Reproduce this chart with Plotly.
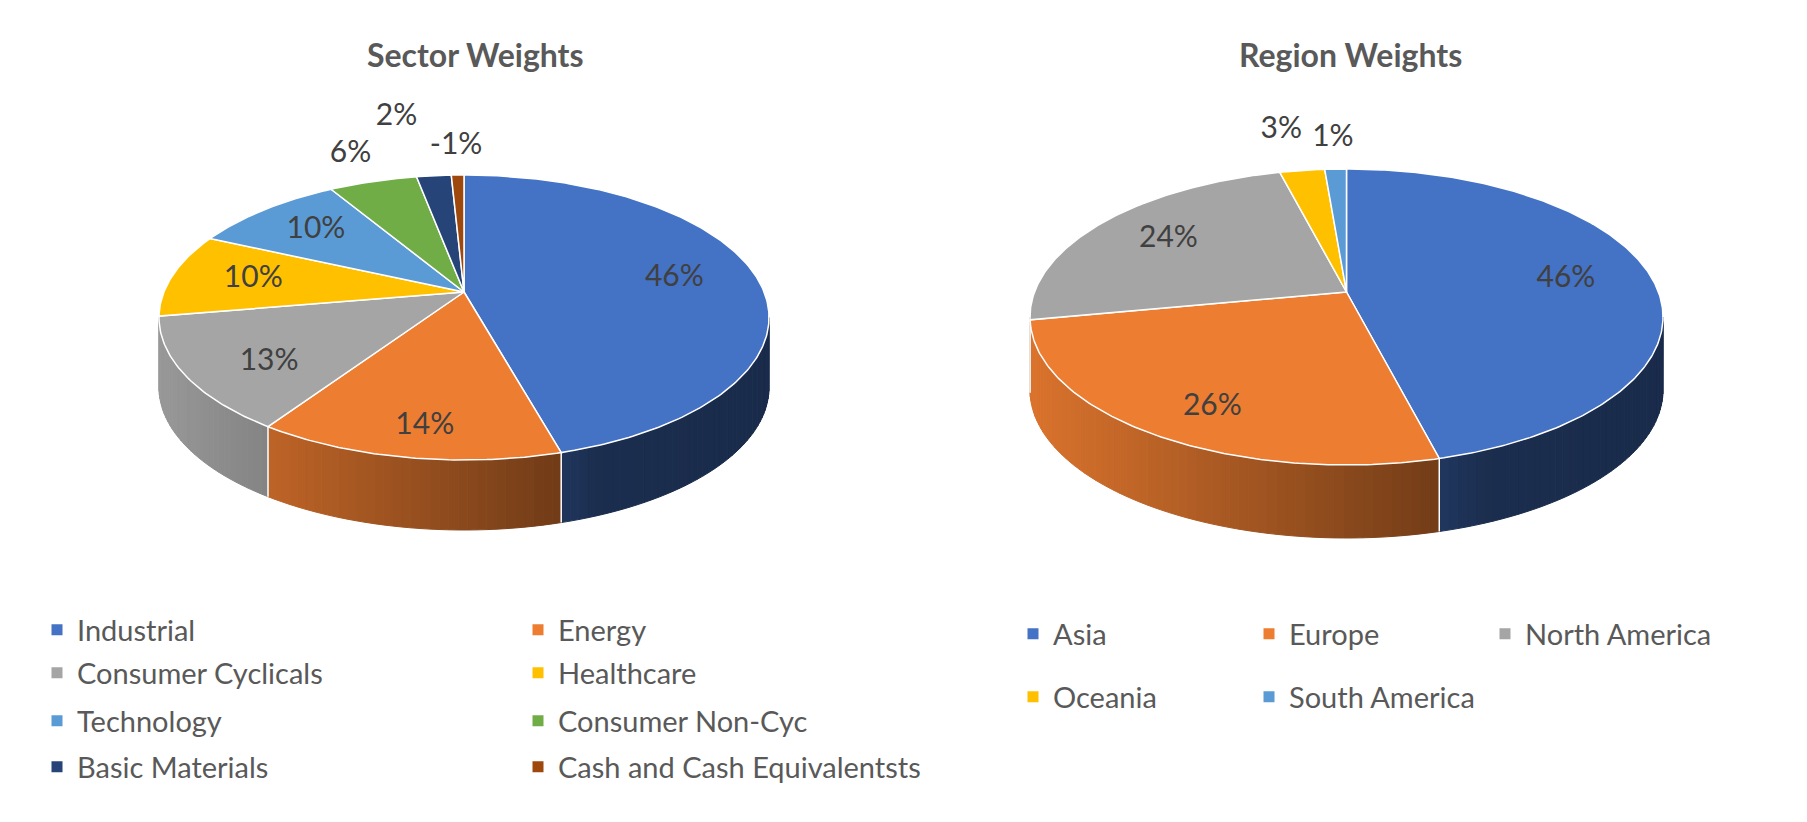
import numpy as np
import plotly.graph_objects as go

# ---------------- data ----------------
sector_title = "Sector Weights"
sector_names = ["Industrial", "Energy", "Consumer Cyclicals", "Healthcare",
                "Technology", "Consumer Non-Cyc", "Basic Materials",
                "Cash and Cash Equivalentsts"]
sector_values = [0.46, 0.138, 0.13, 0.096, 0.097, 0.056, 0.022, -0.008]
sector_colors = ["#4472C4", "#ED7D31", "#A5A5A5", "#FFC000",
                 "#5B9BD5", "#70AD47", "#264478", "#9E480E"]

region_title = "Region Weights"
region_names = ["Asia", "Europe", "North America", "Oceania", "South America"]
region_values = [0.46, 0.26, 0.24, 0.027, 0.013]
region_colors = ["#4472C4", "#ED7D31", "#A5A5A5", "#FFC000", "#5B9BD5"]

# ---------------- layout / style ----------------
W, H = 1807, 822
FONT = "Lato"
LABEL_COLOR = "#404040"
TEXT_COLOR = "#595959"


def make_geom(cx, apex_y, top_y, bottom_y, half_width, depth):
    """Perspective mapping of a unit disk: apex projects to (cx, apex_y)."""
    p = (2 * apex_y - top_y - bottom_y) / (top_y - bottom_y)
    a = top_y * (1 + p) - apex_y
    c = half_width * np.sqrt(1 - p * p)
    return dict(cx=cx, ya=apex_y, p=p, a=a, c=c, depth=depth,
                xl=cx - half_width, xr=cx + half_width)


def proj(g, u, v):
    den = 1 + g["p"] * v
    return g["cx"] + g["c"] * u / den, (g["a"] * v + g["ya"]) / den


def shade(hexcol, f):
    r, gg, b = (int(hexcol[i:i + 2], 16) for i in (1, 3, 5))
    return "rgb(%d,%d,%d)" % (round(r * f), round(gg * f), round(b * f))


sector_geom = make_geom(464, 292, 175, 460, 305, 70)
region_geom = make_geom(1346.5, 292, 169, 465, 316.5, 73)

fig = go.Figure()


def draw_pie(g, values, colors, names):
    vals = np.abs(np.array(values, dtype=float))
    fr = vals / vals.sum()
    bounds = np.concatenate([[0.0], np.cumsum(fr)]) * 2 * np.pi
    th_vis0 = np.arccos(-g["p"])
    th_vis1 = 2 * np.pi - th_vis0
    # ---- side walls (gradient strips) ----
    for i, col in enumerate(colors):
        t0 = max(bounds[i], th_vis0)
        t1 = min(bounds[i + 1], th_vis1)
        if t1 <= t0:
            continue
        n = max(1, int(np.ceil(np.degrees(t1 - t0) / 1.5)))
        edges = np.linspace(t0, t1, n + 1)
        for k in range(n):
            th = np.linspace(edges[k], edges[k + 1], 4)
            xs, ys = proj(g, np.sin(th), np.cos(th))
            xm = xs.mean()
            t = (xm - g["xl"]) / (g["xr"] - g["xl"])
            f = np.interp(t, [0, 0.65, 0.72, 1.0], [0.92, 0.48, 0.40, 0.38])
            c = shade(col, f)
            X = list(xs) + list(xs[::-1])
            Y = list(ys) + list((ys + g["depth"])[::-1])
            fig.add_trace(go.Scatter(
                x=X + [X[0]], y=Y + [Y[0]], mode="lines", fill="toself",
                fillcolor=c, line=dict(color=c, width=1),
                hoverinfo="skip", showlegend=False))
    # white seams on the side wall
    for b in bounds[1:-1]:
        if th_vis0 < b < th_vis1:
            x0, y0 = proj(g, np.sin(b), np.cos(b))
            fig.add_trace(go.Scatter(
                x=[x0, x0], y=[y0, y0 + g["depth"]], mode="lines",
                line=dict(color="white", width=1.5),
                hoverinfo="skip", showlegend=False))
    # ---- top surface ----
    ax, ay = proj(g, 0.0, 0.0)
    for i, col in enumerate(colors):
        t0, t1 = bounds[i], bounds[i + 1]
        n = max(3, int(np.ceil(np.degrees(t1 - t0) / 0.75)) + 1)
        th = np.linspace(t0, t1, n)
        xs, ys = proj(g, np.sin(th), np.cos(th))
        fig.add_trace(go.Scatter(
            x=[ax] + list(xs) + [ax], y=[ay] + list(ys) + [ay],
            mode="lines", fill="toself", fillcolor=col,
            line=dict(color="white", width=1.5),
            name=names[i], hoveron="fills", hoverinfo="name",
            showlegend=False))
    # ---- data labels ----
    texts = ["%d%%" % round(v * 100) for v in values]
    pos = []
    inside = []
    for i in range(len(values)):
        mid = (bounds[i] + bounds[i + 1]) / 2
        ins = fr[i] >= 0.08
        r = 0.72 if ins else 1.3
        x, y = proj(g, r * np.sin(mid), r * np.cos(mid))
        if ins:
            # labels of front slices sit a little lower (side wall visible)
            y += 22 * max(0.0, -np.cos(mid))
        pos.append([x, y])
        inside.append(ins)
    placed = []
    for i in reversed(range(len(values))):
        if inside[i]:
            continue
        w = len(texts[i]) * 0.6 * 29
        x, y = pos[i]
        for _ in range(12):
            clash = any(abs(x - px) < (w + pw) / 2 + 8 and abs(y - py) < 30
                        for px, py, pw in placed)
            if not clash:
                break
            x -= 10
            y -= 10
        pos[i] = [x, y]
        placed.append((x, y, w))
    fig.add_trace(go.Scatter(
        x=[p[0] for p in pos], y=[p[1] for p in pos], text=texts,
        mode="text", textposition="middle center",
        textfont=dict(family=FONT, size=30, color=LABEL_COLOR),
        hoverinfo="skip", showlegend=False))


draw_pie(sector_geom, sector_values, sector_colors, sector_names)
draw_pie(region_geom, region_values, region_colors, region_names)

# ---------------- legends (one legend per row) ----------------
legend_rows = [
    # (names, colors, indices, row centre y (px), left x (px), entry width)
    (sector_names, sector_colors, [0, 1], 630, 37, 436),
    (sector_names, sector_colors, [2, 3], 673, 37, 436),
    (sector_names, sector_colors, [4, 5], 721, 37, 436),
    (sector_names, sector_colors, [6, 7], 767, 37, 436),
    (region_names, region_colors, [0, 1, 2], 634, 1013, 191),
    (region_names, region_colors, [3, 4], 697, 1013, 191),
]
legend_layout = {}
for k, (names, colors, idx, yc, xl, ew) in enumerate(legend_rows):
    lid = "legend" if k == 0 else "legend%d" % (k + 1)
    for i in idx:
        fig.add_trace(go.Scatter(
            x=[None], y=[None], mode="markers", name=names[i],
            marker=dict(symbol="square", size=11, color=colors[i]),
            legend=lid, showlegend=True, hoverinfo="skip"))
    legend_layout[lid] = dict(
        orientation="h", x=xl / W, y=1 - yc / H, xanchor="left",
        yanchor="middle", entrywidth=ew, entrywidthmode="pixels",
        font=dict(family=FONT, size=29, color=TEXT_COLOR),
        bgcolor="rgba(0,0,0,0)", borderwidth=0, traceorder="normal")

# ---------------- titles ----------------
annotations = [
    dict(text=sector_title, x=475 / W, y=1 - 55 / H, xref="paper", yref="paper",
         showarrow=False, xanchor="center", yanchor="middle",
         font=dict(family=FONT, size=32, color=TEXT_COLOR, weight="bold")),
    dict(text=region_title, x=1350 / W, y=1 - 55 / H, xref="paper", yref="paper",
         showarrow=False, xanchor="center", yanchor="middle",
         font=dict(family=FONT, size=32, color=TEXT_COLOR, weight="bold")),
]

fig.update_layout(
    width=W, height=H, margin=dict(l=0, r=0, t=0, b=0, pad=0),
    paper_bgcolor="white", plot_bgcolor="white",
    xaxis=dict(range=[0, W], visible=False, fixedrange=True, domain=[0, 1]),
    yaxis=dict(range=[H, 0], visible=False, fixedrange=True, domain=[0, 1]),
    annotations=annotations, hovermode="closest",
    **legend_layout,
)

fig.write_html("out.html")
